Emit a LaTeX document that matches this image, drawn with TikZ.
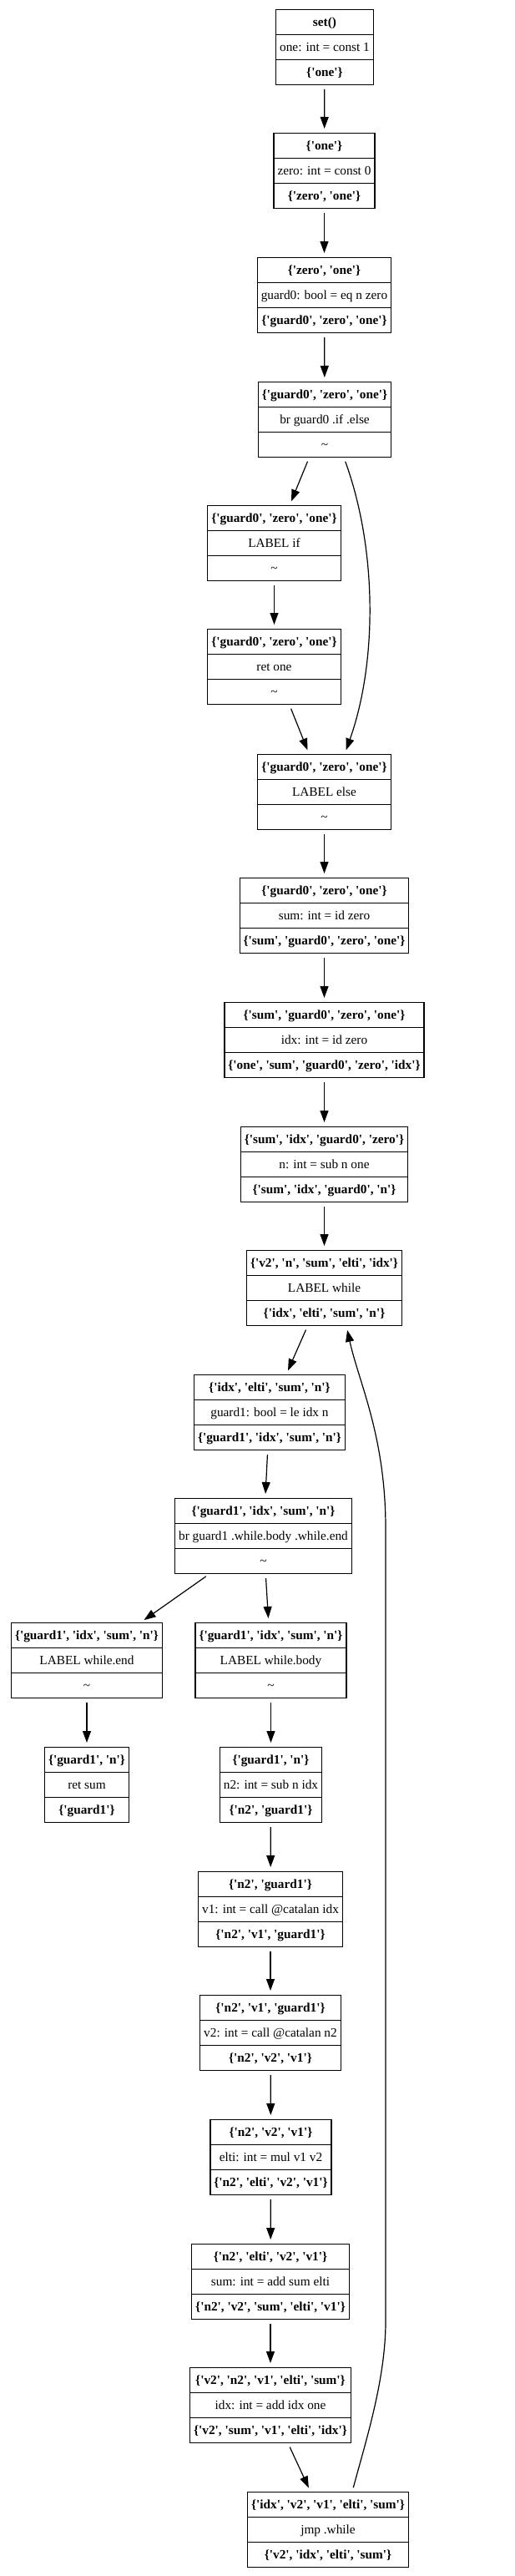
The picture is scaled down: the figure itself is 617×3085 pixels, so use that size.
\documentclass[tikz,border=0pt]{standalone}
\usepackage{fontspec}
\newfontfamily\gv{Liberation Serif}
\usetikzlibrary{arrows.meta}
\setlength{\arrayrulewidth}{1.2pt}
\renewcommand{\arraystretch}{1}
\newcommand{\rs}{\rule[-9.7pt]{0pt}{29.1pt}}
\newcommand{\recb}[3]{\begin{tabular}{@{\hspace{4.5pt}}c@{\hspace{4.5pt}}}\rs #1\\\hline\rs #2\\\hline\rs #3\end{tabular}}
\newcommand{\bs}[1]{\textbf{\{#1\}}}
\newcommand{\tl}{\textasciitilde}
\begin{document}
\begin{tikzpicture}[x=1pt, y=-1pt,
  font=\gv\fontsize{15.3}{18}\selectfont,
  rec/.style={draw, line width=1.3pt, inner sep=0pt, anchor=north},
  edge/.style={-{Triangle[length=14pt,width=10pt]}, line width=1.2pt, shorten >=5pt, shorten <=5pt}]
\useasboundingbox (0,0) rectangle (617,3085);
\node[rec] (b1) at (389,11) {\recb{\textbf{set()}}{one: int = const 1}{\bs{'one'}}};
\node[rec] (b2) at (388.5,159) {\recb{\bs{'one'}}{zero: int = const 0}{\bs{'zero', 'one'}}};
\node[rec] (b3) at (388.5,308) {\recb{\bs{'zero', 'one'}}{guard0: bool = eq n zero}{\bs{'guard0', 'zero', 'one'}}};
\node[rec] (b4) at (389,457) {\recb{\bs{'guard0', 'zero', 'one'}}{br guard0 .if .else}{\tl}};
\node[rec] (b5) at (328.5,605) {\recb{\bs{'guard0', 'zero', 'one'}}{LABEL if}{\tl}};
\node[rec] (b6) at (328.5,753) {\recb{\bs{'guard0', 'zero', 'one'}}{ret one}{\tl}};
\node[rec] (b7) at (388.5,903) {\recb{\bs{'guard0', 'zero', 'one'}}{LABEL else}{\tl}};
\node[rec] (b8) at (388.5,1051) {\recb{\bs{'guard0', 'zero', 'one'}}{sum: int = id zero}{\bs{'sum', 'guard0', 'zero', 'one'}}};
\node[rec] (b9) at (388.5,1200) {\recb{\bs{'sum', 'guard0', 'zero', 'one'}}{idx: int = id zero}{\bs{'one', 'sum', 'guard0', 'zero', 'idx'}}};
\node[rec] (b10) at (388.5,1349) {\recb{\bs{'sum', 'idx', 'guard0', 'zero'}}{n: int = sub n one}{\bs{'sum', 'idx', 'guard0', 'n'}}};
\node[rec] (b11) at (388.5,1497) {\recb{\bs{'v2', 'n', 'sum', 'elti', 'idx'}}{LABEL while}{\bs{'idx', 'elti', 'sum', 'n'}}};
\node[rec] (b12) at (323,1646) {\recb{\bs{'idx', 'elti', 'sum', 'n'}}{guard1: bool = le idx n}{\bs{'guard1', 'idx', 'sum', 'n'}}};
\node[rec] (b13) at (315.5,1794) {\recb{\bs{'guard1', 'idx', 'sum', 'n'}}{br guard1 .while.body .while.end}{\tl}};
\node[rec] (b14) at (104,1943) {\recb{\bs{'guard1', 'idx', 'sum', 'n'}}{LABEL while.end}{\tl}};
\node[rec] (b15) at (324.5,1943) {\recb{\bs{'guard1', 'idx', 'sum', 'n'}}{LABEL while.body}{\tl}};
\node[rec] (b16) at (104,2092) {\recb{\bs{'guard1', 'n'}}{ret sum}{\bs{'guard1'}}};
\node[rec] (b17) at (324.5,2092) {\recb{\bs{'guard1', 'n'}}{n2: int = sub n idx}{\bs{'n2', 'guard1'}}};
\node[rec] (b18) at (324,2241) {\recb{\bs{'n2', 'guard1'}}{v1: int = call @catalan idx}{\bs{'n2', 'v1', 'guard1'}}};
\node[rec] (b19) at (324,2389) {\recb{\bs{'n2', 'v1', 'guard1'}}{v2: int = call @catalan n2}{\bs{'n2', 'v2', 'v1'}}};
\node[rec] (b20) at (324.5,2538) {\recb{\bs{'n2', 'v2', 'v1'}}{elti: int = mul v1 v2}{\bs{'n2', 'elti', 'v2', 'v1'}}};
\node[rec] (b21) at (324,2687) {\recb{\bs{'n2', 'elti', 'v2', 'v1'}}{sum: int = add sum elti}{\bs{'n2', 'v2', 'sum', 'elti', 'v1'}}};
\node[rec] (b22) at (324,2835) {\recb{\bs{'v2', 'n2', 'v1', 'elti', 'sum'}}{idx: int = add idx one}{\bs{'v2', 'sum', 'v1', 'elti', 'idx'}}};
\node[rec] (b23) at (393,2984) {\recb{\bs{'idx', 'v2', 'v1', 'elti', 'sum'}}{jmp .while}{\bs{'v2', 'idx', 'elti', 'sum'}}};
\coordinate (r1) at (462,2780);
\coordinate (r2) at (462,1830);
\draw[edge] (b1) -- (b2);
\draw[edge] (b2) -- (b3);
\draw[edge] (b3) -- (b4);
\draw[edge] (b4) -- (b5);
\draw[edge] ([xshift=23pt]b4.south) .. controls +(40,110) and +(39,-110) .. ([xshift=24.5pt]b7.north);
\draw[edge] (b5) -- (b6);
\draw[edge] (b6) -- (b7);
\draw[edge] (b7) -- (b8);
\draw[edge] (b8) -- (b9);
\draw[edge] (b9) -- (b10);
\draw[edge] (b10) -- (b11);
\draw[edge] (b11) -- (b12);
\draw[edge] (b12) -- (b13);
\draw[edge] (b13) -- (b14);
\draw[edge] (b13) -- (b15);
\draw[edge] (b14) -- (b16);
\draw[edge] (b15) -- (b17);
\draw[edge] (b17) -- (b18);
\draw[edge] (b18) -- (b19);
\draw[edge] (b19) -- (b20);
\draw[edge] (b20) -- (b21);
\draw[edge] (b21) -- (b22);
\draw[edge] (b22) -- (b23);
\draw[edge] ([xshift=29pt]b23.north) .. controls +(16,-60) and +(0,70) .. (r1) -- (r2) .. controls +(0,-110) and +(15,68) .. ([xshift=26.5pt]b11.south);
\end{tikzpicture}
\end{document}
